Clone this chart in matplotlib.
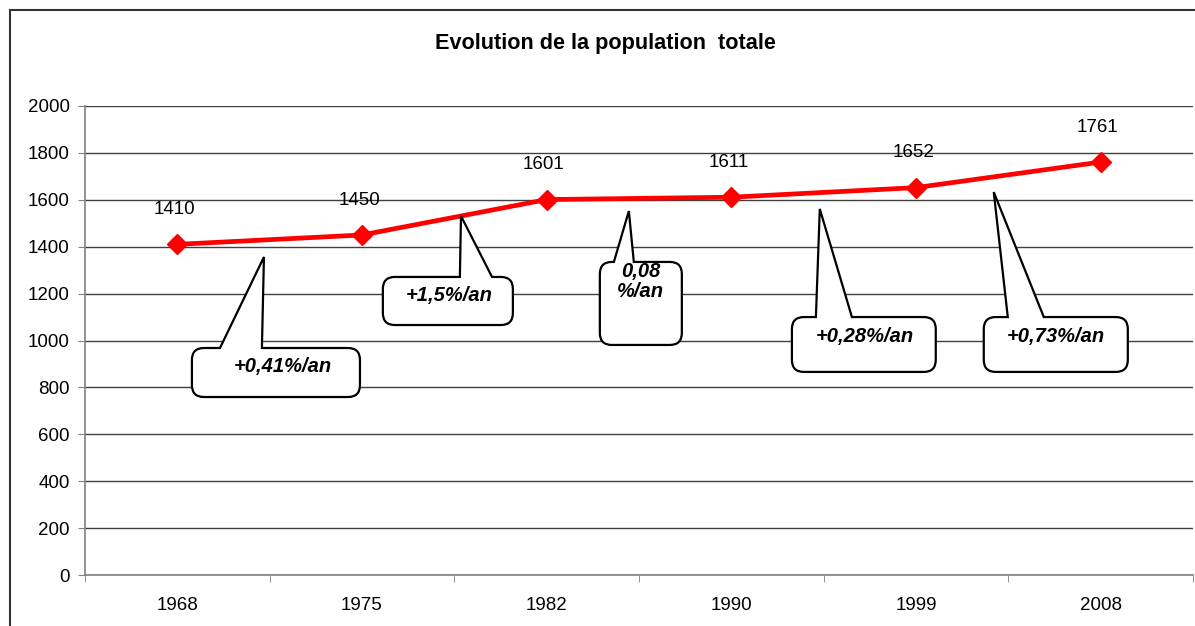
import numpy as np
import matplotlib
matplotlib.use("Agg")
import matplotlib.pyplot as plt
from matplotlib.path import Path
from matplotlib.patches import PathPatch, Rectangle
from matplotlib.transforms import IdentityTransform

plt.rcParams['font.family'] = ['Liberation Sans', 'DejaVu Sans']

# donnees
annees = ["1968", "1975", "1982", "1990", "1999", "2008"]
population = [1410, 1450, 1601, 1611, 1652, 1761]
yticks = [0, 200, 400, 600, 800, 1000, 1200, 1400, 1600, 1800, 2000]

# bulles : texte, boite (x0, y0, x1, y1), base de la pointe (xa, xb), pointe (xt, yt), position du texte
bulles = [
    ("+0,41%/an", (0.079, 759, 0.989, 968), (0.231, 0.458), (0.469, 1356), (0.572, 887)),
    ("+1,5%/an", (1.113, 1066, 1.817, 1271), (1.530, 1.704), (1.536, 1531), (1.471, 1194)),
    ("0,08\n%/an", (2.288, 981, 2.732, 1335), (2.364, 2.472), (2.445, 1552), (2.510, 1250)),
    ("+0,28%/an", (3.328, 866, 4.107, 1100), (3.458, 3.653), (3.479, 1561), (3.723, 1015)),
    ("+0,73%/an", (4.367, 866, 5.147, 1100), (4.497, 4.692), (4.421, 1633), (4.757, 1015)),
]

W, H = 1195, 626
fig = plt.figure(figsize=(W / 100, H / 100), dpi=100)
ax = fig.add_axes([85 / W, 51 / H, 1108 / W, 469 / H])

x = np.arange(len(annees))
ax.plot(x, population, color='#ff0000', lw=3.4, marker='D', markersize=10,
        markerfacecolor='#ff0000', markeredgecolor='#ff0000', zorder=4, clip_on=False)

for xi, v in zip(x, population):
    ax.annotate(str(v), (xi, v), xytext=(-2, 25), textcoords='offset points',
                ha='center', va='center', fontsize=13.5)

ax.set_xlim(-0.5, len(annees) - 0.5)
ax.set_ylim(0, 2000)
ax.set_yticks(yticks)
ax.set_xticks(x)
ax.set_xticklabels(annees)
ax.set_xticks(np.arange(len(annees) + 1) - 0.5, minor=True)
ax.tick_params(axis='x', which='major', length=0, pad=16, labelsize=13.5)
ax.tick_params(axis='x', which='minor', length=5, color='#808080')
ax.tick_params(axis='y', length=5, pad=6, labelsize=13.5, color='#808080')
ax.yaxis.grid(True, color='#404040', lw=1)
ax.set_axisbelow(True)
for s in ['top', 'right']:
    ax.spines[s].set_visible(False)
for s in ['left', 'bottom']:
    ax.spines[s].set_color('#808080')
    ax.spines[s].set_linewidth(1.2)

fig.text(0.507, 1 - 44 / H, "Evolution de la population  totale", ha='center', va='center',
         fontsize=15.6, fontweight='bold')

# cadre du graphique
fig.add_artist(Rectangle((10 / W, -0.1), 1.0, 1.1 - 10 / H, transform=fig.transFigure,
                         fill=False, edgecolor='#333333', lw=1.5))


def bulle(texte, boite, base, pointe, pos, r=12):
    td = ax.transData
    x0, y0 = td.transform((boite[0], boite[1]))
    x1, y1 = td.transform((boite[2], boite[3]))
    xa = td.transform((base[0], 0))[0]
    xb = td.transform((base[1], 0))[0]
    xt, yt = td.transform(pointe)
    verts = [(x0 + r, y1), (xa, y1), (xt, yt), (xb, y1), (x1 - r, y1),
             (x1, y1), (x1, y1 - r), (x1, y0 + r), (x1, y0), (x1 - r, y0),
             (x0 + r, y0), (x0, y0), (x0, y0 + r), (x0, y1 - r), (x0, y1), (x0 + r, y1),
             (x0 + r, y1)]
    codes = [Path.MOVETO, Path.LINETO, Path.LINETO, Path.LINETO, Path.LINETO,
             Path.CURVE3, Path.CURVE3, Path.LINETO, Path.CURVE3, Path.CURVE3,
             Path.LINETO, Path.CURVE3, Path.CURVE3, Path.LINETO, Path.CURVE3, Path.CURVE3,
             Path.CLOSEPOLY]
    p = PathPatch(Path(verts, codes), facecolor='white', edgecolor='black', lw=1.6,
                  transform=IdentityTransform(), zorder=5, clip_on=False)
    ax.add_artist(p)
    ax.text(pos[0], pos[1], texte, ha='center', va='center', fontsize=14.5,
            fontweight='bold', fontstyle='italic', zorder=6, linespacing=1.05)


for b in bulles:
    bulle(*b)

fig.savefig("out.png", dpi=100)
